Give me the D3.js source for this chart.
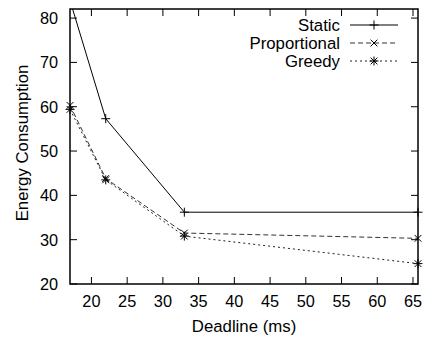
<!DOCTYPE html>
<html><head><meta charset="utf-8">
<script src="https://cdn.jsdelivr.net/npm/d3@7"></script>
<style>body{margin:0;background:#fff}svg{display:block}text{font-family:"Liberation Sans",Arial,sans-serif;fill:#000}</style>
</head><body><svg id="c" width="428" height="339"></svg>
<script>
const deadlines = [17, 22, 33, 65.7];
const staticVals = [84, 57.3, 36.2, 36.2];
const proportionalVals = [60.3, 43.8, 31.5, 30.3];
const greedyVals = [59.4, 43.5, 30.8, 24.6];
const xTicks = [20, 25, 30, 35, 40, 45, 50, 55, 60, 65];
const yTicks = [20, 30, 40, 50, 60, 70, 80];
const seriesNames = ["Static", "Proportional", "Greedy"];

const svg = d3.select("#c");
const L = 70, R = 418, T = 9, B = 284;
const FS = 16.8, FT = 16.3;
const x = d3.scaleLinear().domain([17, 65.7]).range([L, R]);
const y = d3.scaleLinear().domain([20, 82.05]).range([B, T]);

const tk = 7;
const g = svg.append("g").attr("stroke", "#000").attr("stroke-width", 1);
xTicks.forEach(v => {
  g.append("line").attr("x1", x(v)).attr("x2", x(v)).attr("y1", B).attr("y2", B - tk);
  g.append("line").attr("x1", x(v)).attr("x2", x(v)).attr("y1", T).attr("y2", T + tk);
});
yTicks.forEach(v => {
  g.append("line").attr("x1", L).attr("x2", L + tk).attr("y1", y(v)).attr("y2", y(v));
  g.append("line").attr("x1", R).attr("x2", R - tk).attr("y1", y(v)).attr("y2", y(v));
});
xTicks.forEach(v => svg.append("text").attr("x", x(v)).attr("y", 307).attr("text-anchor", "middle").attr("font-size", FT).text(v));
yTicks.forEach(v => svg.append("text").attr("x", 58).attr("y", y(v) + 6).attr("text-anchor", "end").attr("font-size", FT).text(v));

svg.append("text").attr("x", 244).attr("y", 332).attr("text-anchor", "middle").attr("font-size", FS).text("Deadline (ms)");
svg.append("text").attr("transform", "translate(28,143) rotate(-90)").attr("text-anchor", "middle").attr("font-size", FS).text("Energy Consumption");

svg.append("defs").append("clipPath").attr("id", "clip").append("rect").attr("x", L).attr("y", T).attr("width", R - L).attr("height", B - T);

const styles = [
  {vals: staticVals, dash: null, color: "#000", marker: "plus"},
  {vals: proportionalVals, dash: "5,3", color: "#333", marker: "cross"},
  {vals: greedyVals, dash: "2,3", color: "#222", marker: "star"}
];
function drawMarker(sel, type, cx, cy) {
  const s = 4.5, m = sel.append("g").attr("stroke", "#000").attr("stroke-width", 1);
  if (type === "plus" || type === "star") {
    m.append("line").attr("x1", cx - s).attr("x2", cx + s).attr("y1", cy).attr("y2", cy);
    m.append("line").attr("x1", cx).attr("x2", cx).attr("y1", cy - s).attr("y2", cy + s);
  }
  if (type === "cross" || type === "star") {
    const d = s * 0.75;
    m.append("line").attr("x1", cx - d).attr("x2", cx + d).attr("y1", cy - d).attr("y2", cy + d);
    m.append("line").attr("x1", cx - d).attr("x2", cx + d).attr("y1", cy + d).attr("y2", cy - d);
  }
}
const plot = svg.append("g").attr("clip-path", "url(#clip)");
const line = d3.line().x((d, i) => x(deadlines[i])).y(d => y(d));
styles.forEach(st => {
  plot.append("path").attr("d", line(st.vals)).attr("fill", "none").attr("stroke", st.color)
    .attr("stroke-width", 1).attr("stroke-dasharray", st.dash);
});
const mk = svg.append("g");
styles.forEach(st => {
  st.vals.forEach((v, i) => { if (v <= 82.05) drawMarker(mk, st.marker, x(deadlines[i]), y(v)); });
});

styles.forEach((st, i) => {
  const ly = 25 + i * 18;
  svg.append("text").attr("x", 340).attr("y", ly + 6).attr("text-anchor", "end").attr("font-size", FS).text(seriesNames[i]);
  svg.append("line").attr("x1", 350).attr("x2", 398).attr("y1", ly).attr("y2", ly).attr("stroke", st.color)
    .attr("stroke-width", 1).attr("stroke-dasharray", st.dash);
  drawMarker(svg, st.marker, 374, ly);
});

svg.append("rect").attr("x", L).attr("y", T).attr("width", R - L).attr("height", B - T)
  .attr("fill", "none").attr("stroke", "#000").attr("stroke-width", 1.5);
</script></body></html>
